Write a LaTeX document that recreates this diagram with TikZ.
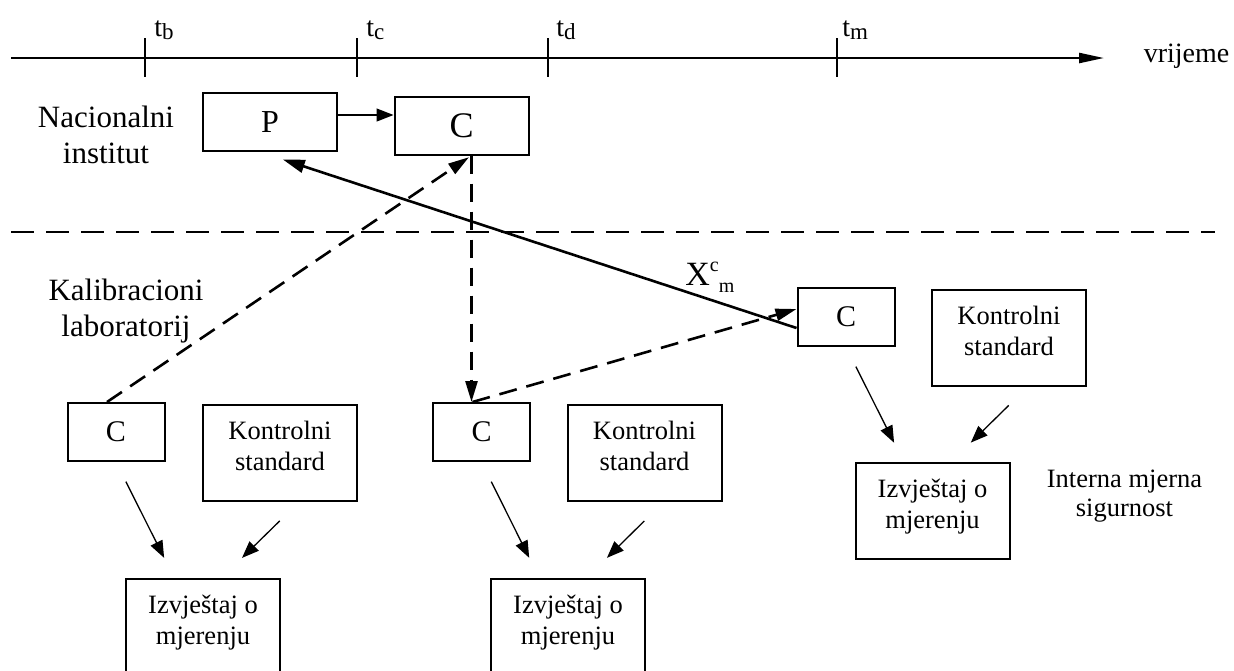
\documentclass[tikz,border=0pt]{standalone}
\usepackage{fontspec}
\setmainfont{Liberation Serif}
\usetikzlibrary{arrows.meta}
\newcommand\tsub[1]{{\fontsize{11.5}{11.5}\selectfont\raisebox{-1.5pt}{#1}}}
\tikzset{
    box/.style={draw, line width=1pt, inner sep=0pt},
    wbox/.style={box, minimum width=67pt, minimum height=29pt},
    cbox/.style={box, minimum width=48.5pt, minimum height=29pt, font=\fontsize{15}{15}\selectfont},
    bigbox/.style={box, minimum width=77pt, minimum height=48pt,
        label={[anchor=north, align=center, inner sep=0pt, yshift=-8.5pt,
            font=\fontsize{13.25}{15.5}\selectfont]north:{#1}}},
    side/.style={align=center, inner sep=0pt, font=\fontsize{15.5}{18}\selectfont},
    tlab/.style={anchor=base west, inner sep=0pt, font=\fontsize{14}{14}\selectfont},
    thinarr/.style={line width=0.65pt, -{Triangle[length=8.5pt, width=6.5pt]}},
    boldarr/.style={line width=1.3pt, -{Triangle[length=11pt, width=6.5pt]}},
    dasharr/.style={line width=1.3pt, dash pattern=on 9pt off 5pt, -{Triangle[length=10.5pt, width=6pt]}},
    sepline/.style={line width=0.65pt, dash pattern=on 11.5pt off 6pt}
}

\begin{document}
\begin{tikzpicture}[x=0.5pt, y=-0.5pt]
    \useasboundingbox (0,0) rectangle (1234,670);
    \clip (0,0) rectangle (1234,670);
% Time axis
    \coordinate (tl0) at (11,58);
    \coordinate (tl1) at (1104,58);
    \draw[line width=1.2pt, -{Triangle[length=12.5pt, width=5pt]}] (tl0) -- (tl1);
    \draw[line width=0.6pt] (145,38) -- (145,77);
    \draw[line width=0.6pt] (357,38) -- (357,77);
    \draw[line width=0.6pt] (548,38) -- (548,77);
    \draw[line width=0.6pt] (837,38) -- (837,77);
    \node[tlab] (tb) at (154,36) {t\tsub{b}};
    \node[tlab] (tc) at (366,36) {t\tsub{c}};
    \node[tlab] (td) at (556,36) {t\tsub{d}};
    \node[tlab] (tm) at (842,36) {t\tsub{m}};
    \node[anchor=base, inner sep=0pt, font=\fontsize{14}{14}\selectfont] (vrijeme) at (1186.5,62) {vrijeme};
% Levels
    \coordinate (sepl) at (11,232);
    \coordinate (sepr) at (1215,232);
    \draw[sepline] (sepl) -- (sepr);
    \node[side, anchor=north] (nac) at (106,106) {Nacionalni\\institut};
    \node[side, anchor=north] (kal) at (126,279) {Kalibracioni\\laboratorij};
    \node[align=center, inner sep=0pt, anchor=north, font=\fontsize{13.25}{14.5}\selectfont] (interna) at (1124.5,470) {Interna mjerna\\sigurnost};
% Boxes
    \node[wbox, font=\fontsize{16}{16}\selectfont] (p) at (270,122) {P};
    \node[wbox, font=\fontsize{18}{18}\selectfont] (ctop) at (461.5,125.5) {C};
    \node[cbox] (c1) at (116,432) {C};
    \node[bigbox={Kontrolni\\standard}] (kon1) at (280,453) {};
    \node[bigbox={Izvještaj o\\mjerenju}] (izv1) at (203,626.5) {};
    \node[cbox] (c2) at (481.5,432) {C};
    \node[bigbox={Kontrolni\\standard}] (kon2) at (644.5,453) {};
    \node[bigbox={Izvještaj o\\mjerenju}] (izv2) at (568,626.5) {};
    \node[cbox] (c3) at (846,317) {C};
    \node[bigbox={Kontrolni\\standard}] (kon3) at (1009,337.5) {};
    \node[bigbox={Izvještaj o\\mjerenju}] (izv3) at (932.5,510.5) {};
% Transfers
    \draw[thinarr] ([yshift=3.5pt]p.east) -- ([yshift=3.5pt]p.east -| ctop.west);
    \draw[dasharr, shorten >=1.5pt] ([xshift=-4.5pt]c1.north) -- ([xshift=5pt]ctop.south);
    \draw[dasharr] ([xshift=5pt]ctop.south) -- ([xshift=-5pt]c2.north);
    \draw[dasharr] ([xshift=-4.5pt]c2.north) -- ([yshift=4pt]c3.west);
    \draw[boldarr, shorten >=12pt] ([yshift=-5.5pt]c3.west) -- ([xshift=-5pt]p.south);
    \node[anchor=base west, inner sep=0pt] (xcm) at (685,285)
        {\fontsize{17}{17}\selectfont X\fontsize{10}{10}\selectfont\raisebox{7pt}{c}\raisebox{-3.5pt}{m}};
% Reports
    \draw[thinarr, shorten <=11pt, shorten >=11pt] (c1.south) -- ([xshift=-14.5pt]izv1.north);
    \draw[thinarr, shorten <=13.5pt, shorten >=14pt] ([xshift=9.5pt]kon1.south) -- ([xshift=9.5pt]izv1.north);
    \draw[thinarr, shorten <=11pt, shorten >=11pt] (c2.south) -- ([xshift=-14.5pt]izv2.north);
    \draw[thinarr, shorten <=13.5pt, shorten >=14pt] ([xshift=9.5pt]kon2.south) -- ([xshift=9.5pt]izv2.north);
    \draw[thinarr, shorten <=11pt, shorten >=10.5pt] (c3.south) -- ([xshift=-14.5pt]izv3.north);
    \draw[thinarr, shorten <=13.5pt, shorten >=13.5pt] ([xshift=9.5pt]kon3.south) -- ([xshift=9.5pt]izv3.north);
\end{tikzpicture}
\end{document}
